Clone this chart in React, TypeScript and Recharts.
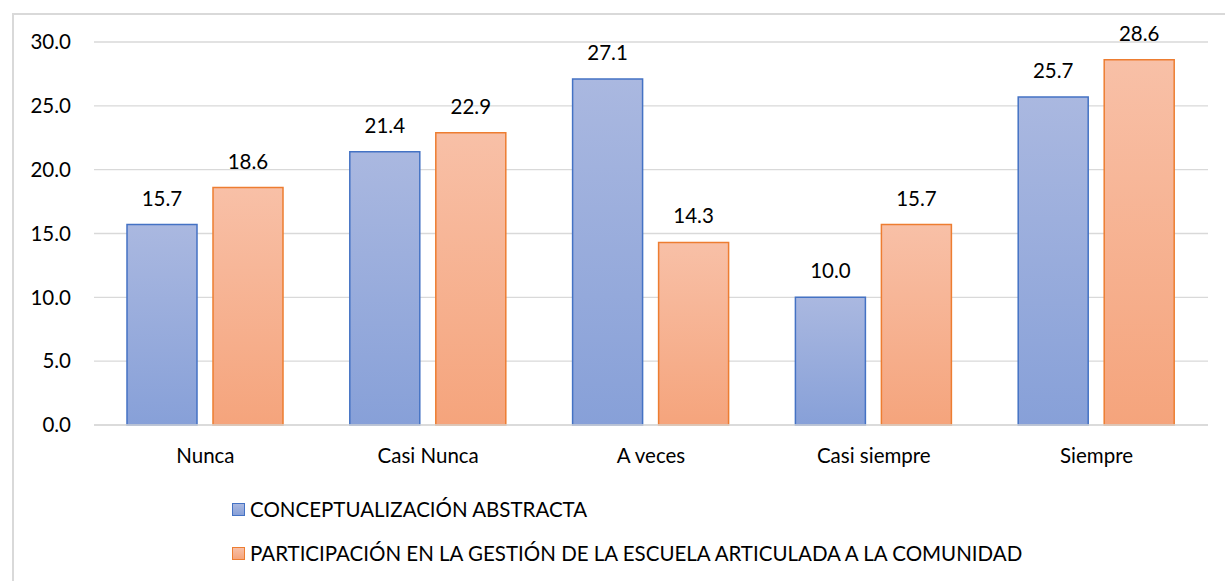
import { BarChart, Bar, XAxis, YAxis, CartesianGrid, LabelList } from 'recharts';

const categories = ['Nunca', 'Casi Nunca', 'A veces', 'Casi siempre', 'Siempre'];
const conceptualizacion = [15.7, 21.4, 27.1, 10.0, 25.7];
const participacion = [18.6, 22.9, 14.3, 15.7, 28.6];
const yTicks = [0, 5, 10, 15, 20, 25, 30];

const seriesNames = [
  'CONCEPTUALIZACIÓN ABSTRACTA',
  'PARTICIPACIÓN EN LA GESTIÓN DE LA ESCUELA ARTICULADA A LA COMUNIDAD',
];

const data = categories.map((name, i) => ({
  name,
  a: conceptualizacion[i],
  b: participacion[i],
}));

const FONT = 'Lato, "Open Sans", sans-serif';
const FS = 20.5;

function ChartLegend() {
  const items = [
    { label: seriesNames[0], top: '#aab8e0', bottom: '#87a0d8', stroke: '#4472c4' },
    { label: seriesNames[1], top: '#f8c0a7', bottom: '#f5a47c', stroke: '#ed7d31' },
  ];
  return (
    <div
      style={{
        position: 'absolute',
        left: 232,
        top: 487,
        fontFamily: FONT,
        fontSize: FS,
        color: '#000',
        whiteSpace: 'nowrap',
      }}
    >
      {items.map((it) => (
        <div key={it.label} style={{ display: 'flex', alignItems: 'center', height: 44 }}>
          <div
            style={{
              width: 11,
              height: 11,
              marginRight: 5,
              border: `1.5px solid ${it.stroke}`,
              background: `linear-gradient(${it.top}, ${it.bottom})`,
            }}
          />
          <span>{it.label}</span>
        </div>
      ))}
    </div>
  );
}

export default function App() {
  return (
    <div
      style={{
        position: 'absolute',
        left: 0,
        top: 0,
        width: 1225,
        height: 581,
        background: '#fff',
        overflow: 'hidden',
      }}
    >
      <div
        style={{
          position: 'absolute',
          left: 12,
          top: 13,
          width: 1300,
          height: 700,
          borderLeft: '2px solid #d9d9d9',
          borderTop: '2px solid #d9d9d9',
        }}
      />
      <BarChart
        width={1225}
        height={581}
        data={data}
        margin={{ top: 42, right: 17, left: 0, bottom: 0 }}
        barGap={16}
        barSize={70}
        style={{ position: 'absolute', left: 0, top: 0 }}
      >
        <defs>
          <linearGradient id="gradBlue" x1="0" y1="0" x2="0" y2="1">
            <stop offset="0%" stopColor="#aab8e0" />
            <stop offset="100%" stopColor="#87a0d8" />
          </linearGradient>
          <linearGradient id="gradOrange" x1="0" y1="0" x2="0" y2="1">
            <stop offset="0%" stopColor="#f8c0a7" />
            <stop offset="100%" stopColor="#f5a47c" />
          </linearGradient>
        </defs>
        <CartesianGrid horizontal vertical={false} stroke="#d9d9d9" strokeWidth={1.3} />
        <XAxis
          dataKey="name"
          height={156}
          axisLine={{ stroke: '#d9d9d9', strokeWidth: 1.3 }}
          tickLine={false}
          tickSize={0}
          tickMargin={23}
          interval={0}
          tick={{ fill: '#000', fontSize: FS, fontFamily: FONT }}
        />
        <YAxis
          width={94}
          domain={[0, 30]}
          ticks={yTicks}
          axisLine={false}
          tickLine={false}
          tickSize={0}
          tickMargin={23}
          tickFormatter={(v: number) => v.toFixed(1)}
          tick={{ fill: '#000', fontSize: FS, fontFamily: FONT }}
        />
        <Bar dataKey="a" name={seriesNames[0]} fill="url(#gradBlue)" stroke="#4472c4" strokeWidth={1.5} isAnimationActive={false}>
          <LabelList
            dataKey="a"
            position="top"
            offset={19}
            formatter={(v: number) => v.toFixed(1)}
            style={{ fill: '#000', fontSize: FS, fontFamily: FONT }}
          />
        </Bar>
        <Bar dataKey="b" name={seriesNames[1]} fill="url(#gradOrange)" stroke="#ed7d31" strokeWidth={1.5} isAnimationActive={false}>
          <LabelList
            dataKey="b"
            position="top"
            offset={19}
            formatter={(v: number) => v.toFixed(1)}
            style={{ fill: '#000', fontSize: FS, fontFamily: FONT }}
          />
        </Bar>
      </BarChart>
      <ChartLegend />
    </div>
  );
}
